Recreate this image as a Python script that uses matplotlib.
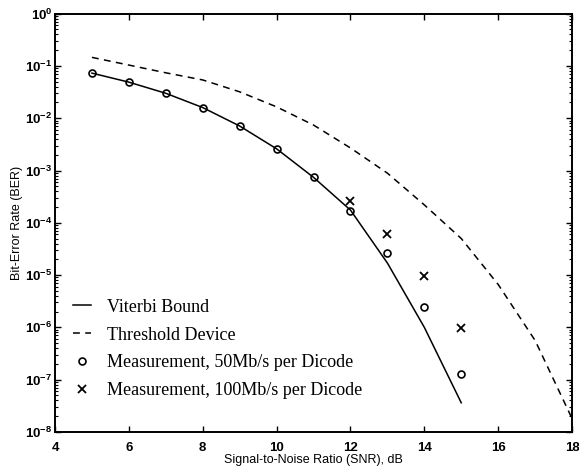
import matplotlib
matplotlib.use("Agg")
import matplotlib.pyplot as plt
from matplotlib.ticker import LogLocator, NullFormatter, FixedLocator

# SNR in dB
snr = [5, 6, 7, 8, 9, 10, 11, 12, 13, 14, 15]
viterbi_ber = [0.073, 0.049, 0.030, 0.016, 0.0071, 0.0026, 7.4e-4, 1.75e-4,
               1.7e-5, 1.0e-6, 3.6e-8]

snr_thr = [5, 6, 7, 8, 9, 10, 11, 12, 13, 14, 15, 16, 17, 18]
threshold_ber = [0.146, 0.104, 0.074, 0.054, 0.032, 0.0165, 0.0074, 0.0027,
                 8.9e-4, 2.2e-4, 5.0e-5, 6.6e-6, 5.6e-7, 1.8e-8]

snr_50 = [5, 6, 7, 8, 9, 10, 11, 12, 13, 14, 15]
meas_50 = [0.073, 0.049, 0.030, 0.016, 0.0071, 0.0026, 7.4e-4, 1.7e-4,
           2.6e-5, 2.5e-6, 1.3e-7]

snr_100 = [12, 13, 14, 15]
meas_100 = [2.6e-4, 6.0e-5, 9.5e-6, 9.5e-7]

fig = plt.figure(figsize=(5.79, 4.72), dpi=100, facecolor="white")
ax = fig.add_axes([0.095, 0.085, 0.893, 0.886])

ax.semilogy(snr, viterbi_ber, color="black", lw=1.1, label="Viterbi Bound")
ax.semilogy(snr_thr, threshold_ber, color="black", lw=1.1,
            dashes=(4.5, 3.5), label="Threshold Device")
ax.semilogy(snr_50, meas_50, ls="none", marker="o", ms=5, mfc="none",
            mec="black", mew=1.2, label="Measurement, 50Mb/s per Dicode")
ax.semilogy(snr_100, meas_100, ls="none", marker="x", ms=5.5,
            mec="black", mew=1.3, label="Measurement, 100Mb/s per Dicode")

ax.set_xlim(4, 18)
ax.set_ylim(1e-8, 1e0)
ax.xaxis.set_major_locator(FixedLocator([4, 6, 8, 10, 12, 14, 16, 18]))
ax.yaxis.set_major_locator(LogLocator(base=10, numticks=20))
ax.yaxis.set_minor_locator(LogLocator(base=10, subs=range(2, 10), numticks=20))
ax.yaxis.set_minor_formatter(NullFormatter())

ax.tick_params(which="both", direction="in", top=True, right=True)
ax.tick_params(which="major", length=4, width=1.0, labelsize=9.5, pad=2)
ax.tick_params(axis="x", which="major", pad=7)
ax.tick_params(which="minor", length=2, width=0.8)
for lab in ax.get_xticklabels() + ax.get_yticklabels():
    lab.set_fontweight("bold")
    lab.set_family("Liberation Sans")
for sp in ax.spines.values():
    sp.set_linewidth(1.4)

ax.set_xlabel("Signal-to-Noise Ratio (SNR), dB", fontsize=9,
              family="Liberation Sans", labelpad=0.5)
ax.set_ylabel("Bit-Error Rate (BER)", fontsize=9,
              family="Liberation Sans", labelpad=1)

ax.legend(loc="lower left", bbox_to_anchor=(0.0, 0.035), frameon=False,
          prop={"family": "Liberation Serif", "size": 13},
          handlelength=1.0, handletextpad=0.9, labelspacing=0.6,
          borderaxespad=0.6)

fig.savefig("out.png", dpi=100, facecolor="white")
